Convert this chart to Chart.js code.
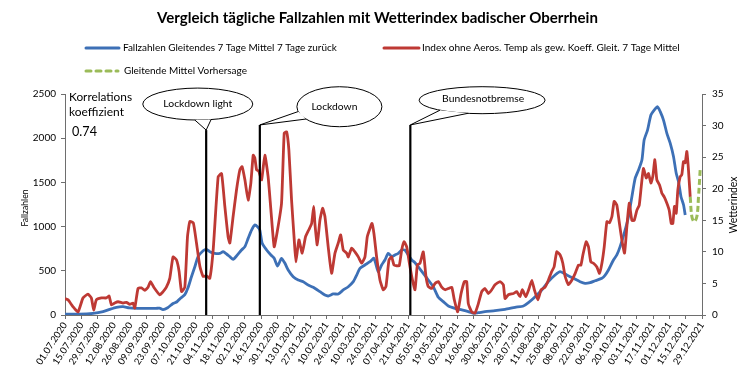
<!DOCTYPE html>
<html>
<head>
<meta charset="utf-8">
<script src="https://cdn.jsdelivr.net/npm/chart.js@4.4.1/dist/chart.umd.min.js"></script>
<style>
html,body{margin:0;padding:0;background:#fff;}
#wrap{position:relative;width:756px;height:379px;}
canvas{display:block;}
</style>
</head>
<body>
<div id="wrap"><canvas id="c" width="756" height="379"></canvas></div>
<script>
// ---------- DATA ----------
const chartTitle = 'Vergleich tägliche Fallzahlen mit Wetterindex badischer Oberrhein';
const seriesNames = [
  'Fallzahlen Gleitendes 7 Tage Mittel 7 Tage zurück',
  'Index ohne Aeros. Temp als gew. Koeff. Gleit. 7 Tage Mittel',
  'Gleitende Mittel Vorhersage'
];
const xTickLabels = ['01.07.2020','15.07.2020','29.07.2020','12.08.2020','26.08.2020','09.09.2020','23.09.2020','07.10.2020','21.10.2020','04.11.2020','18.11.2020','02.12.2020','16.12.2020','30.12.2020','13.01.2021','27.01.2021','10.02.2021','24.02.2021','10.03.2021','24.03.2021','07.04.2021','21.04.2021','05.05.2021','19.05.2021','02.06.2021','16.06.2021','30.06.2021','14.07.2021','28.07.2021','11.08.2021','25.08.2021','08.09.2021','22.09.2021','06.10.2021','20.10.2021','03.11.2021','17.11.2021','01.12.2021','15.12.2021','29.12.2021'];
const tickStepDays = 14;
// days since 01.07.2020
const caseDays = [0,12,24,32.6,38.3,44,49.8,55,62,70,78,81,84,88,92.6,96,99,102.7,105.5,108.4,111.3,114.1,118.4,121.3,124.1,128.4,132.7,135.5,138.5,141.3,144.1,147,151.3,154.2,157,159.9,162.7,165,167,169,172.8,176.5,179.3,182.2,185.6,188.5,191.3,195.6,199.9,204.2,208.5,212.8,218.5,222.8,225.6,229.9,234.2,238.5,242.8,247.1,250,252.8,257.1,261.4,264.8,268.5,271.4,274.2,277.1,280,282.8,285.7,288.6,291.4,294.2,297.2,300,302.8,307.1,311.4,315.7,320,324.3,328.6,334.3,340.1,345.7,350,354.3,360,368.6,377.2,385.8,392.9,397.2,403,408.7,414.3,420.1,424.4,430.1,435.8,441.5,445.8,450.1,454.4,460.2,463,465.8,470.1,473,475.8,479.3,483,485.9,488.7,491.6,494.5,496.4,499.3,502.2,505,507.9,510.2,513,515.9,518.8,521.6,523.9,525.9,528,530.2,531.6];
const caseValues = [10,10,19,38,64,87,94,80,75,75,75,78,60,82,130,150,190,230,310,433,546,660,727,743,716,697,697,716,690,660,630,667,735,773,867,961,1018,999,961,811,735,679,641,554,641,585,509,433,396,377,339,313,264,226,215,238,238,283,320,377,452,528,566,603,641,490,566,622,698,660,679,698,735,735,679,622,592,546,471,396,320,200,151,102,75,57,38,19,26,38,49,64,87,102,140,207,283,377,452,490,452,415,377,358,366,388,415,452,509,622,679,773,924,1112,1338,1546,1640,1753,1979,2092,2262,2319,2356,2300,2205,2055,1942,1791,1603,1508,1338,1244,1131];
const indexDays = [0,2.6,6.9,11.2,15.4,19.7,22.6,24.6,26.9,31.2,35.5,37.8,39.8,42.6,45.5,49.8,52.7,55.5,58.3,59.8,62.6,65.5,68.4,71.2,73.3,76.1,81.2,84.1,86.9,89.8,92.6,95.6,97.8,99.9,102.7,105,107,110,112.7,115.6,118.4,121.3,124.1,127,131.3,134.2,137,139.8,141.3,144.1,147,149.9,151.8,154.2,157,159.3,161.3,162.7,164.2,166.1,168.5,171.3,174.1,176.5,179.3,182.2,185.6,187.9,190,191.9,194.2,196.5,197.9,200.5,203.3,206.2,209,211.4,213.2,214.2,216.2,218.5,220.8,222.8,225.6,228.5,231.4,234.2,236.3,238.5,241.4,242.8,245.7,248.5,251.4,254.3,257.1,259.1,261.4,263.1,264.8,267.1,270,272.8,275.1,277.7,280,282,284.3,286.5,288.6,290.6,292.9,295.2,297.2,300,302,304.3,307.1,309.4,311.4,314.3,317.2,320,322.9,325.8,328.6,331.5,333.7,336.6,339.5,342.3,344.3,345.7,348.6,351.4,354.3,357.2,360,362.9,365.8,368.6,372.9,375.7,377.2,380,384.3,387.2,390,392,395,397.8,400.1,402.3,405.3,408.1,411.5,414.3,417.2,419.2,421.5,424.4,426.7,428.7,431.5,434.4,437.3,440.1,442.2,443.9,446.7,448.7,450.7,453,455.9,458.1,460.2,462.2,464.5,466.7,468.8,470.7,473,475,477.3,479.6,481.6,483.6,485.9,487.9,490.2,492.2,493.9,495.8,498.2,500.1,502.2,503.9,505.6,507.3,509.6,511.6,513.6,515.9,517.9,519.6,521,522.4,523.9,525.3,527.3,528.7,530.1,531.6,533,534.4,535.9];
const indexValues = [2.6,2.4,1.3,0.5,2.7,3.3,2.7,0.8,2.4,2.7,2.7,3.0,1.6,1.9,2.1,1.9,2.0,1.7,1.9,1.1,4.2,4.3,3.9,4.4,5.3,4.4,3.2,3.7,4.4,5.8,9.2,8.7,6.9,3.7,4.4,12.4,14.8,14.6,11.4,7.7,6.1,6.2,5.8,10.3,21.9,22.4,17.2,12.4,11.4,15.6,19.8,23.0,23.5,21.4,18.2,20.9,25.3,24.9,23.0,22.8,21.4,25.3,21.9,16.6,10.8,13.5,17.7,28.8,29.0,26.1,18.2,11.9,8.4,11.9,9.8,12.4,13.5,14.5,17.2,14.5,11.1,15.0,16.9,15.6,10.8,6.6,9.8,11.4,12.7,10.3,9.8,9.2,10.6,10.0,9.2,8.2,9.2,12.4,13.7,14.5,12.9,9.2,5.5,4.0,4.5,8.7,9.2,7.9,7.8,7.8,10.3,11.6,10.8,8.2,6.1,4.0,7.9,8.2,10.0,6.1,4.5,4.2,5.0,5.3,4.4,4.0,4.2,4.4,2.4,0.5,3.4,5.3,5.3,1.8,0.5,0.3,1.8,3.7,4.2,3.4,4.0,4.8,5.3,4.8,2.6,3.2,3.4,3.7,2.9,4.0,2.9,4.2,5.5,4.0,2.4,4.0,4.4,5.5,6.9,7.6,10.0,9.5,8.2,6.1,4.8,5.5,6.6,7.9,7.9,9.5,11.6,10.8,8.4,8.2,7.6,6.6,8.2,10.8,14.8,14.6,15.6,18.0,17.4,14.8,11.9,9.8,14.0,17.7,15.0,15.0,16.6,17.4,20.3,23.2,21.7,22.4,20.9,22.0,24.6,21.4,20.6,19.3,18.7,17.7,16.6,14.5,14.5,17.2,16.1,19.8,21.9,22.2,24.3,24.1,25.9,23.0,18.7];
const forecastDays = [535.9,537.3,539.3,541.6,543,544.5];
const forecastValues = [18.7,15.6,14.8,15.6,18.7,23.2];
const eventLabels = ['Lockdown light','Lockdown','Bundesnotbremse'];
const eventDays = [121, 167, 296];
const correlationLabel = ['Korrelations','koeffizient'];
const correlationValue = '0.74';

// ---------- STYLE / LAYOUT (not data) ----------
const FONT = 'Lato, "Open Sans", sans-serif';
const BLUE = '#3D70B6', RED = '#BE3934', GREEN = '#9BBB59', AXIS = '#6e6e6e';
const eventLineTop = [2092, 2150, 2150];           // in left-axis units
const callouts = [
  {cx: 113.8, cy: 2386, rx: 55, ry: 16, a1: 93, a2: 76, tdx: 0, tdy: 0, tw: 69},
  {cx: 235.2, cy: 2356, rx: 42.5, ry: 20, a1: 166, a2: 142, tdx: -5, tdy: 0, tw: 46},
  {cx: 357.5, cy: 2430, rx: 63, ry: 13.5, a1: 132, a2: 103, tdx: 1, tdy: -1.5, tw: 82}
];

function pts(xs, ys){ const n=Math.min(xs.length, ys.length); const r=[]; for(let i=0;i<n;i++) r.push({x:xs[i], y:ys[i]}); return r; }

function fitFont(ctx, text, width, weight){
  ctx.font = `${weight} 20px ${FONT}`;
  const w = ctx.measureText(text).width;
  return `${weight} ${(20*width/w).toFixed(2)}px ${FONT}`;
}

const decor = {
  id: 'decor',
  afterDatasetsDraw(chart){
    const ctx = chart.ctx, xs = chart.scales.x, ys = chart.scales.y;
    ctx.save();
    ctx.strokeStyle = '#000'; ctx.lineWidth = 2.2;
    eventDays.forEach((d,i)=>{
      const x = xs.getPixelForValue(d);
      ctx.beginPath(); ctx.moveTo(x, ys.getPixelForValue(0)); ctx.lineTo(x, ys.getPixelForValue(eventLineTop[i])); ctx.stroke();
    });
    callouts.forEach((c,i)=>{
      const cx = xs.getPixelForValue(c.cx), cy = ys.getPixelForValue(c.cy);
      const tipX = xs.getPixelForValue(eventDays[i]), tipY = ys.getPixelForValue(eventLineTop[i]);
      const p1 = [cx + c.rx*Math.cos(c.a1*Math.PI/180), cy + c.ry*Math.sin(c.a1*Math.PI/180)];
      const p2 = [cx + c.rx*Math.cos(c.a2*Math.PI/180), cy + c.ry*Math.sin(c.a2*Math.PI/180)];
      ctx.lineWidth = 1; ctx.strokeStyle = '#000'; ctx.fillStyle = '#fff';
      ctx.beginPath(); ctx.ellipse(cx, cy, c.rx, c.ry, 0, 0, Math.PI*2); ctx.fill(); ctx.stroke();
      ctx.beginPath(); ctx.moveTo(p1[0], p1[1]); ctx.lineTo(tipX, tipY); ctx.lineTo(p2[0], p2[1]); ctx.closePath(); ctx.fill();
      ctx.beginPath(); ctx.moveTo(p1[0], p1[1]); ctx.lineTo(tipX, tipY); ctx.lineTo(p2[0], p2[1]); ctx.stroke();
      ctx.fillStyle = '#000'; ctx.textAlign = 'center'; ctx.textBaseline = 'middle';
      ctx.font = fitFont(ctx, eventLabels[i], c.tw, 'normal');
      ctx.fillText(eventLabels[i], cx + c.tdx, cy + c.tdy);
    });
    ctx.restore();
  },
  afterDraw(chart){
    const ctx = chart.ctx;
    ctx.save();
    ctx.fillStyle = '#000'; ctx.textBaseline = 'middle';
    ctx.textAlign = 'left';
    ctx.font = fitFont(ctx, chartTitle, 441, 'bold');
    ctx.fillText(chartTitle, 157, 18);
    ctx.lineCap = 'round';
    const leg = [
      {x1: 86, x2: 119, y: 48, tx: 123, tw: 214, col: BLUE, dash: []},
      {x1: 384, x2: 419, y: 48, tx: 422, tw: 258, col: RED, dash: []},
      {x1: 86, x2: 118, y: 71, tx: 124, tw: 123, col: GREEN, dash: [5,5]}
    ];
    leg.forEach((l,i)=>{
      ctx.strokeStyle = l.col; ctx.lineWidth = 3; ctx.setLineDash(l.dash);
      ctx.beginPath(); ctx.moveTo(l.x1, l.y); ctx.lineTo(l.x2, l.y); ctx.stroke();
      ctx.setLineDash([]);
      ctx.font = fitFont(ctx, seriesNames[i], l.tw, 'normal');
      ctx.fillText(seriesNames[i], l.tx, l.y);
    });
    ctx.font = fitFont(ctx, correlationLabel[0], 63, 'normal');
    ctx.fillText(correlationLabel[0], 69, 97);
    ctx.font = fitFont(ctx, correlationLabel[1], 55, 'normal');
    ctx.fillText(correlationLabel[1], 69, 112);
    ctx.font = fitFont(ctx, correlationValue, 25, 'normal');
    ctx.fillText(correlationValue, 72, 132);
    ctx.textAlign = 'center';
    ctx.save(); ctx.translate(25, 208); ctx.rotate(-Math.PI/2);
    ctx.font = fitFont(ctx, 'Fallzahlen', 37, 'normal'); ctx.fillText('Fallzahlen', 0, 0); ctx.restore();
    ctx.save(); ctx.translate(734, 205); ctx.rotate(-Math.PI/2);
    ctx.font = fitFont(ctx, 'Wetterindex', 57, 'normal'); ctx.fillText('Wetterindex', 0, 0); ctx.restore();
    ctx.restore();
  }
};

const tickFont = {family: FONT, size: 10};
new Chart(document.getElementById('c'), {
  type: 'line',
  data: {
    datasets: [
      {label: seriesNames[2], data: pts(forecastDays, forecastValues), yAxisID: 'y1', borderColor: GREEN, borderWidth: 3, borderDash: [6,3], pointRadius: 0, tension: 0.4, order: 0, fill: false},
      {label: seriesNames[1], data: pts(indexDays, indexValues), yAxisID: 'y1', borderColor: RED, borderWidth: 2.8, pointRadius: 0, tension: 0.15, order: 1, fill: false},
      {label: seriesNames[0], data: pts(caseDays, caseValues), yAxisID: 'y', borderColor: BLUE, borderWidth: 2.8, pointRadius: 0, tension: 0.2, order: 2, fill: false}
    ]
  },
  options: {
    responsive: false, animation: false, devicePixelRatio: 1,
    layout: {padding: {top: 94, left: 0, right: 0, bottom: 0}},
    plugins: {legend: {display: false}, title: {display: false}, tooltip: {enabled: false}},
    scales: {
      x: {
        type: 'linear', min: 0, max: (xTickLabels.length-1)*tickStepDays,
        afterFit: s => { s.height = 64; },
        ticks: {stepSize: tickStepDays, autoSkip: false, maxRotation: 57, minRotation: 57, padding: 1, color: '#000', font: {family: FONT, size: 9.5},
          callback: v => xTickLabels[Math.round(v/tickStepDays)]},
        grid: {display: true, drawOnChartArea: false, drawTicks: true, tickLength: 4, color: AXIS},
        border: {display: true, color: AXIS, width: 1}
      },
      y: {
        position: 'left', min: 0, max: 2500,
        afterFit: s => { s.width = 65; },
        ticks: {stepSize: 500, color: '#000', font: tickFont, padding: 5, callback: v => String(v)},
        grid: {display: true, drawOnChartArea: false, drawTicks: true, tickLength: 4, color: AXIS},
        border: {display: true, color: AXIS, width: 1}
      },
      y1: {
        position: 'right', min: 0, max: 35,
        afterFit: s => { s.width = 54; },
        ticks: {stepSize: 5, color: '#000', font: tickFont, padding: 6, callback: v => String(v)},
        grid: {display: true, drawOnChartArea: false, drawTicks: true, tickLength: 4, color: AXIS},
        border: {display: true, color: AXIS, width: 1}
      }
    }
  },
  plugins: [decor]
});
</script>
</body>
</html>
